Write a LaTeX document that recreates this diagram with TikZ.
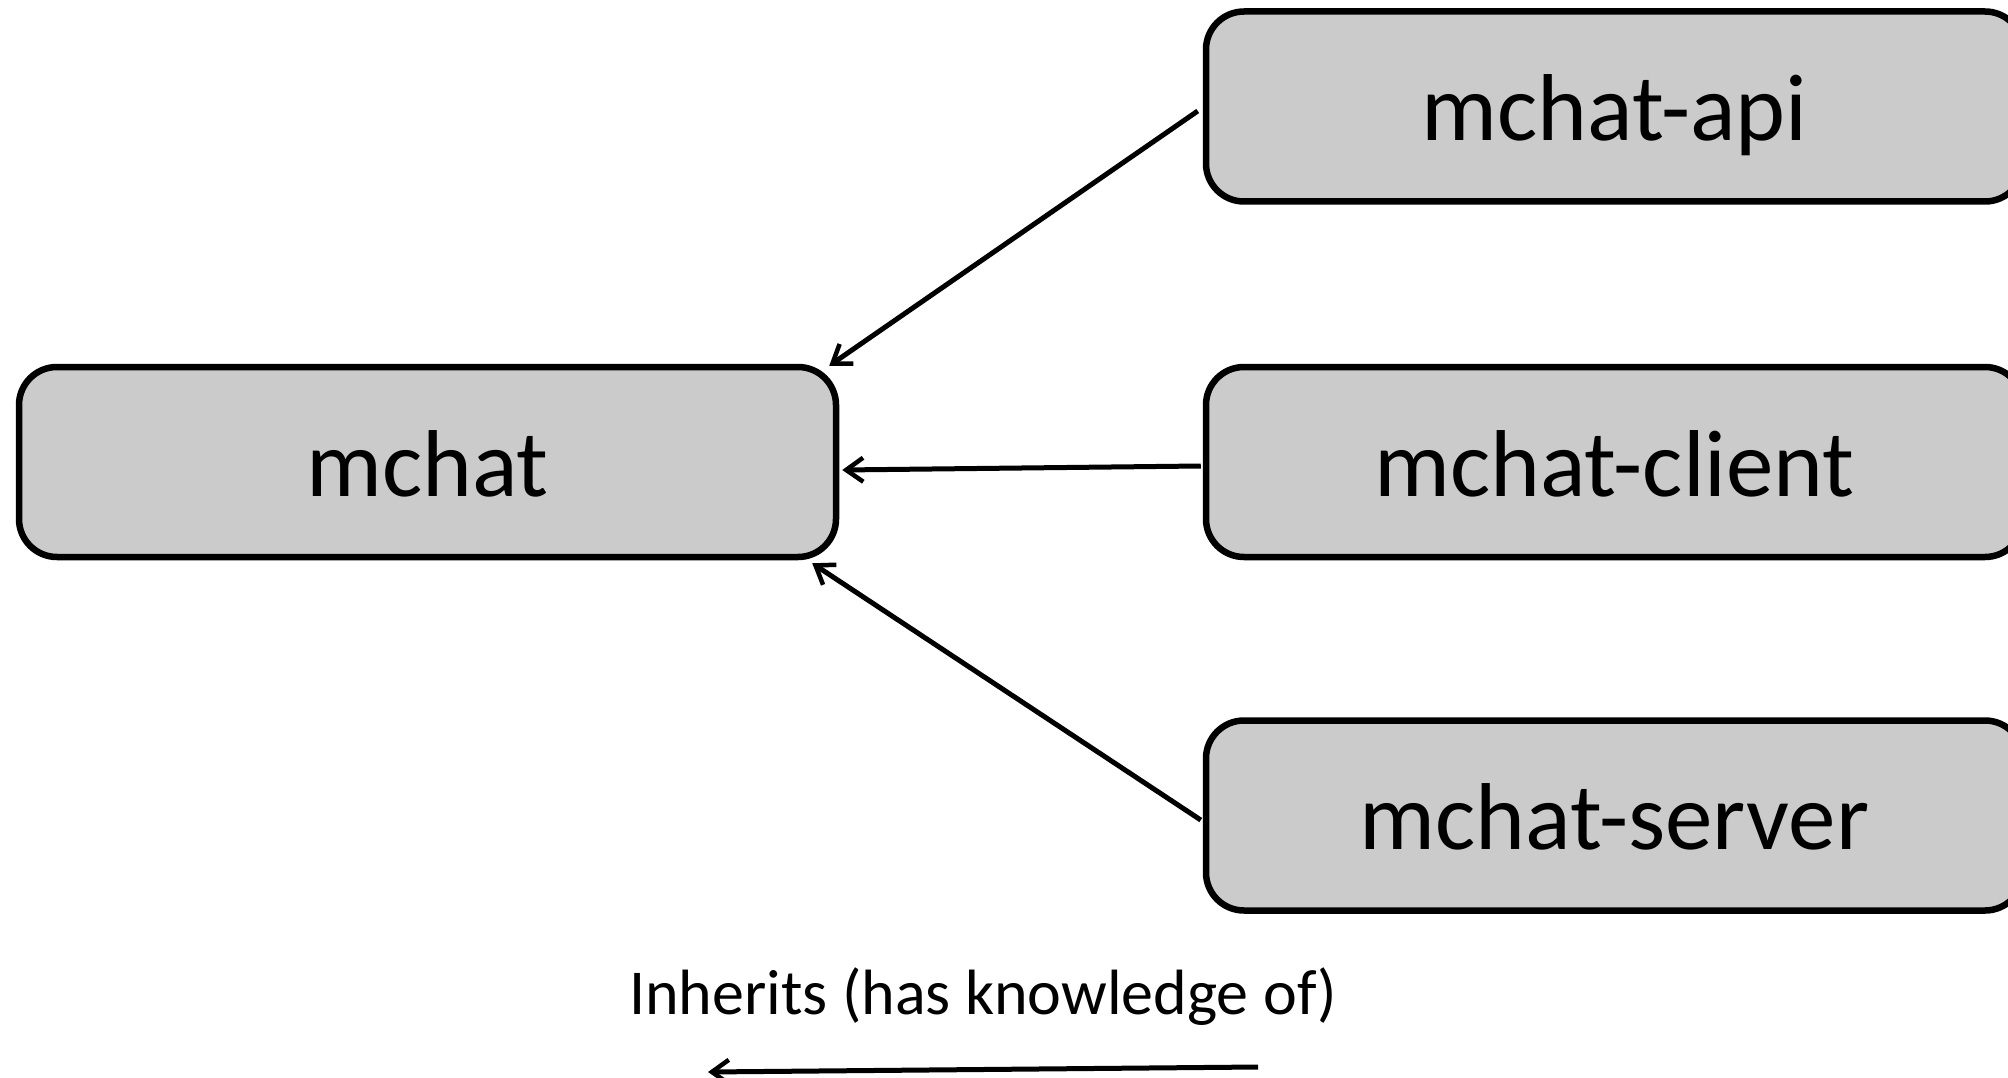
\documentclass[tikz,border=0pt]{standalone}
\usepackage{fontspec}
\setmainfont{Carlito}
\usetikzlibrary{arrows.meta}
\begin{document}
\begin{tikzpicture}[x=1pt,y=-1pt,
  module/.style={draw=black,line width=6.5pt,fill={rgb,255:red,203;green,203;blue,203},
    rounded corners=38pt,minimum width=817pt,minimum height=190pt,inner sep=0pt,
    text height=68pt,text depth=0pt,font=\fontsize{95}{110}\selectfont},
  inherit/.style={draw=black,line width=5pt,-{Straight Barb[length=17pt,width=24pt,line width=4.5pt]}},
  legendtext/.style={font=\fontsize{64}{76}\selectfont,anchor=base,inner sep=0pt}]
  \useasboundingbox (0,0) rectangle (2008,1078);
  \clip (0,0) rectangle (2008,1078);

  % modules
  \node[module] (mchat)  at (427.5,462)  {mchat};
  \node[module] (api)    at (1614.5,106.5) {mchat-api};
  \node[module] (client) at (1614.5,462)  {mchat-client};
  \node[module] (server) at (1614.5,815.5) {mchat-server};

  % dependency arrows
  \draw[inherit] ([xshift=-5pt,yshift=-4.5pt]api.west) -- ([xshift=-10pt,yshift=-2pt]mchat.north east);
  \draw[inherit] ([xshift=-2pt,yshift=-4pt]client.west) -- ([xshift=3pt,yshift=-8pt]mchat.east);
  \draw[inherit] ([xshift=-2pt,yshift=-4.5pt]server.west) -- ([xshift=-27pt,yshift=-3pt]mchat.south east);

  % legend
  \node[legendtext] (legend) at (983,1014) {Inherits (has knowledge of)};
  \coordinate (legA) at (1258,1067);
  \coordinate (legB) at (708,1072);
  \draw[inherit] (legA) -- (legB);
\end{tikzpicture}
\end{document}
